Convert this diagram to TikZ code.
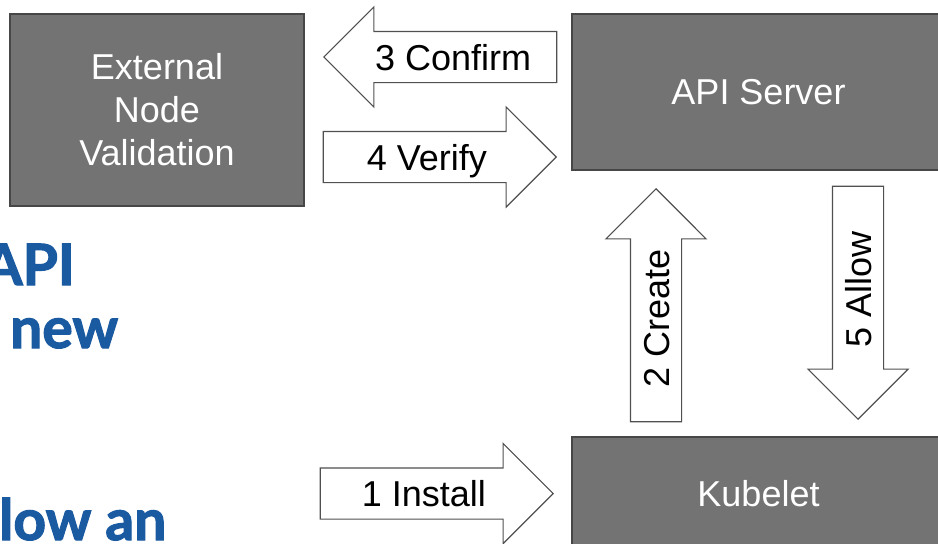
\documentclass[tikz,border=0pt]{standalone}
\usepackage{fontspec}
\setmainfont{Liberation Sans}
\newfontfamily\slidefont[BoldFeatures={FakeBold=2}]{Lato}
\usetikzlibrary{shapes.arrows,positioning}
\definecolor{boxgray}{HTML}{737373}
\definecolor{boxline}{HTML}{474747}
\definecolor{flowline}{HTML}{505050}
\definecolor{slideblue}{HTML}{1A5AA0}

\begin{document}
\begin{tikzpicture}[
    x=1pt, y=1pt,
    box/.style={rectangle, draw=boxline, line width=2pt, fill=boxgray, text=white, align=center, inner sep=0pt, font=\fontsize{36}{43}\selectfont},
    flow/.style={single arrow, draw=flowline, line width=1.1pt, fill=white, minimum height=233pt, minimum width=99pt, single arrow head extend=24.5pt, inner xsep=0pt, inner ysep=12pt, text height=26pt, text depth=0pt, font=\fontsize{36}{43}\selectfont},
    slide/.style={text=slideblue, inner sep=0pt, font=\slidefont\bfseries\fontsize{57}{57}\selectfont}
]
\useasboundingbox (0,0) rectangle (938,-544);
\clip (0,0) rectangle (938,-544);

% Slide text behind the diagram
\node (slideapi) [slide, anchor=base east] at (75,-285) {API};
\node (slidenew) [slide, anchor=base west] at (10,-348) {new};
\node (slideallow) [slide, anchor=base west] at (-1,-540) {low an};

% Nodes
\node (extval) [box, minimum width=294pt, minimum height=192pt] at (157,-110) {External\\Node\\Validation};
\node (apiserver) [box, minimum width=373pt, minimum height=156pt] at (758.5,-92) {API Server};
\node (kubelet) [box, minimum width=373pt, minimum height=113pt] at (758.5,-493.5) {Kubelet};

% Arrows
\node (install) [flow, anchor=tip] at ([xshift=-17pt]kubelet.west) {1 Install};
\node (create) [flow, rotate=90, anchor=tip] at ([xshift=85pt,yshift=-17pt]apiserver.south west) {2 Create};
\node (confirm) [flow, shape border rotate=180, anchor=tip] at ([xshift=18pt,yshift=-44pt]extval.north east) {3 Confirm};
\node (verify) [flow, anchor=tip] at ([xshift=-14pt,yshift=14pt]apiserver.south west) {4 Verify};
\node (allow) [flow, shape border rotate=180, rotate=90, anchor=tip] at ([xshift=287pt,yshift=16pt]kubelet.north west) {5 Allow};

\end{tikzpicture}
\end{document}
